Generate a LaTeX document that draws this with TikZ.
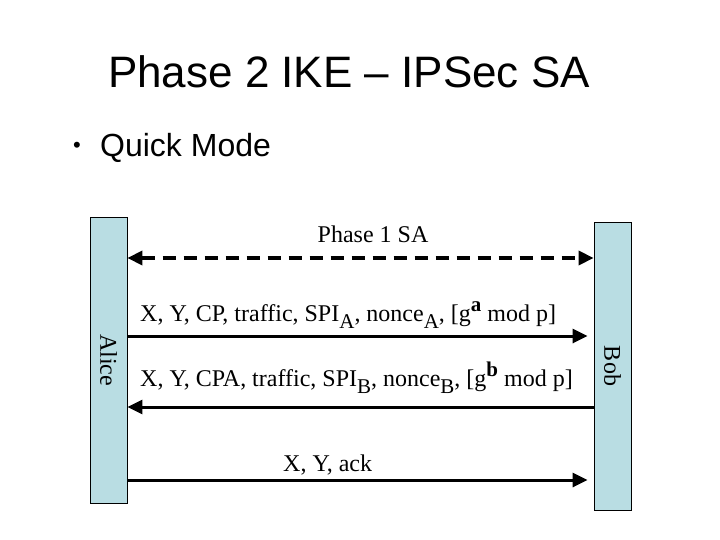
\documentclass[tikz,border=0pt]{standalone}
\usepackage{fontspec}
\setmainfont{Liberation Serif}
\newfontfamily\arialfont{Liberation Sans}
\usetikzlibrary{arrows.meta}
\definecolor{barblue}{RGB}{185,221,227}
\newcommand\lsub[1]{\raisebox{-7pt}{\fontsize{21}{21}\selectfont #1}}
\newcommand\hsup[1]{\raisebox{10pt}{\fontsize{21}{21}\selectfont\bfseries #1}}
\tikzset{
  bar/.style={draw=black, line width=0.8pt, fill=barblue, minimum width=37pt, inner sep=0pt},
  msg/.style={line width=3pt, -{Triangle[length=15pt,width=14pt]}},
  dmsg/.style={line width=3.5pt, dash pattern=on 13pt off 8pt, {Triangle[length=15pt,width=14pt]}-{Triangle[length=15pt,width=14pt]}},
  lbl/.style={inner sep=0pt, anchor=base west, font=\fontsize{24}{28}\selectfont},
  who/.style={inner sep=0pt, rotate=-90, font=\fontsize{24}{28}\selectfont}
}
\begin{document}
\begin{tikzpicture}[x=1pt,y=-1pt]
\useasboundingbox (0,0) rectangle (720,540);
% title
\node[inner sep=0pt, anchor=base, font=\arialfont\fontsize{44}{50}\selectfont] (title) at (349,88) {Phase 2 IKE – IPSec SA};
\node[inner sep=0pt, anchor=base west, font=\arialfont\fontsize{22}{26}\selectfont] (bullet) at (73,153) {•};
\node[inner sep=0pt, anchor=base west, font=\arialfont\fontsize{32}{38}\selectfont] (qm) at (100,157) {Quick Mode};
% bars
\node[bar, minimum height=286pt] (alice) at (108.5,360) {};
\node[bar, minimum height=288pt] (bob) at (612.5,366) {};
\node[who] (alicelbl) at (alice.center) {Alice};
\node[who] (boblbl) at (bob.center) {Bob};
% messages
\draw[dmsg] (alice.east |- 0,258) -- (bob.west |- 0,258);
\node[inner sep=0pt, anchor=base, font=\fontsize{24}{28}\selectfont] (p1) at (373,242) {Phase 1 SA};
\draw[msg, shorten >=6pt] (alice.east |- 0,336) -- (bob.west |- 0,336);
\node[lbl] (m1) at (140,321) {X, Y, CP, traffic, SPI\lsub{A}, nonce\lsub{A}, [g\hsup{a} mod p]};
\draw[msg] (bob.west |- 0,407) -- (alice.east |- 0,407);
\node[lbl] (m2) at (140,386) {X, Y, CPA, traffic, SPI\lsub{B}, nonce\lsub{B}, [g\hsup{b} mod p]};
\draw[msg, shorten >=6pt] (alice.east |- 0,480) -- (bob.west |- 0,480);
\node[lbl] (m3) at (283,471) {X, Y, ack};
\end{tikzpicture}
\end{document}
